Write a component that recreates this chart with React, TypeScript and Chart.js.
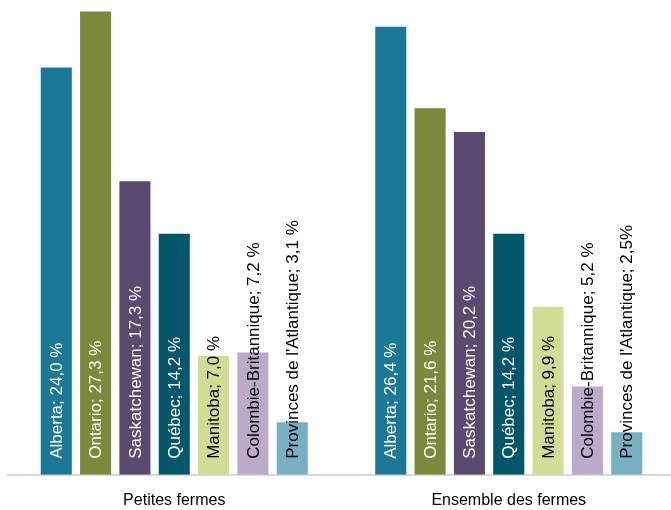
import React, { useEffect, useRef } from "react";
import { Chart, registerables } from "chart.js";

Chart.register(...registerables);

const groups = ["Petites fermes", "Ensemble des fermes"];
const provinces = [
  "Alberta",
  "Ontario",
  "Saskatchewan",
  "Québec",
  "Manitoba",
  "Colombie-Britannique",
  "Provinces de l'Atlantique",
];
const petitesFermes = [24.0, 27.3, 17.3, 14.2, 7.0, 7.2, 3.1];
const ensembleFermes = [26.4, 21.6, 20.2, 14.2, 9.9, 5.2, 2.5];
const labelsPetites = ["24,0 %", "27,3 %", "17,3 %", "14,2 %", "7,0 %", "7,2 %", "3,1 %"];
const labelsEnsemble = ["26,4 %", "21,6 %", "20,2 %", "14,2 %", "9,9 %", "5,2 %", "2,5%"];
const barColors = ["#1b7997", "#7a8a3b", "#5a4a6f", "#04566a", "#d1dc95", "#bbaac9", "#77b0c2"];
const textColors = ["#ffffff", "#ffffff", "#ffffff", "#ffffff", "#000000", "#000000", "#000000"];

const FONT = '"Liberation Sans", Arial, sans-serif';

const barLabelPlugin = {
  id: "barLabels",
  afterDatasetsDraw(chart: any) {
    const ctx = chart.ctx;
    chart.data.datasets.forEach((ds: any, i: number) => {
      const meta = chart.getDatasetMeta(i);
      meta.data.forEach((bar: any, j: number) => {
        const p = bar.getProps(["x", "base"], true);
        const txt = ds.label + "; " + (j === 0 ? labelsPetites[i] : labelsEnsemble[i]);
        ctx.save();
        ctx.translate(p.x + 1, p.base - 16);
        ctx.rotate(-Math.PI / 2);
        ctx.font = "17px " + FONT;
        ctx.textAlign = "left";
        ctx.textBaseline = "middle";
        ctx.fillStyle = textColors[i];
        ctx.fillText(txt, 0, 0);
        ctx.restore();
      });
    });
  },
};

export default function App() {
  const ref = useRef<HTMLCanvasElement>(null);
  useEffect(() => {
    if (!ref.current) return;
    const chart = new Chart(ref.current, {
      type: "bar",
      data: {
        labels: groups,
        datasets: provinces.map((p, i) => ({
          label: p,
          data: [petitesFermes[i], ensembleFermes[i]],
          backgroundColor: barColors[i],
          borderWidth: 0,
          categoryPercentage: 0.823,
          barPercentage: 0.79,
        })),
      },
      options: {
        responsive: false,
        animation: false,
        devicePixelRatio: 1,
        layout: { padding: { top: 8, bottom: 0, left: 0, right: 0 } },
        plugins: {
          legend: { display: false },
          tooltip: { enabled: false },
        },
        scales: {
          x: {
            grid: { display: false, drawTicks: false },
            border: { display: true, color: "#d9d9d9", width: 2 },
            ticks: {
              padding: 16,
              color: "#000000",
              font: { family: FONT, size: 16 },
              maxRotation: 0,
            },
          },
          y: {
            display: false,
            min: 0,
            max: 27.5,
          },
        },
      },
      plugins: [barLabelPlugin],
    });
    return () => chart.destroy();
  }, []);
  return (
    <div
      style={{
        position: "absolute",
        left: 0,
        top: 0,
        width: 671,
        height: 510,
        overflow: "hidden",
        background: "#ffffff",
      }}
    >
      <canvas
        ref={ref}
        width={669}
        height={526}
        style={{ position: "absolute", left: 7, top: 0, width: 669, height: 526 }}
      />
    </div>
  );
}
